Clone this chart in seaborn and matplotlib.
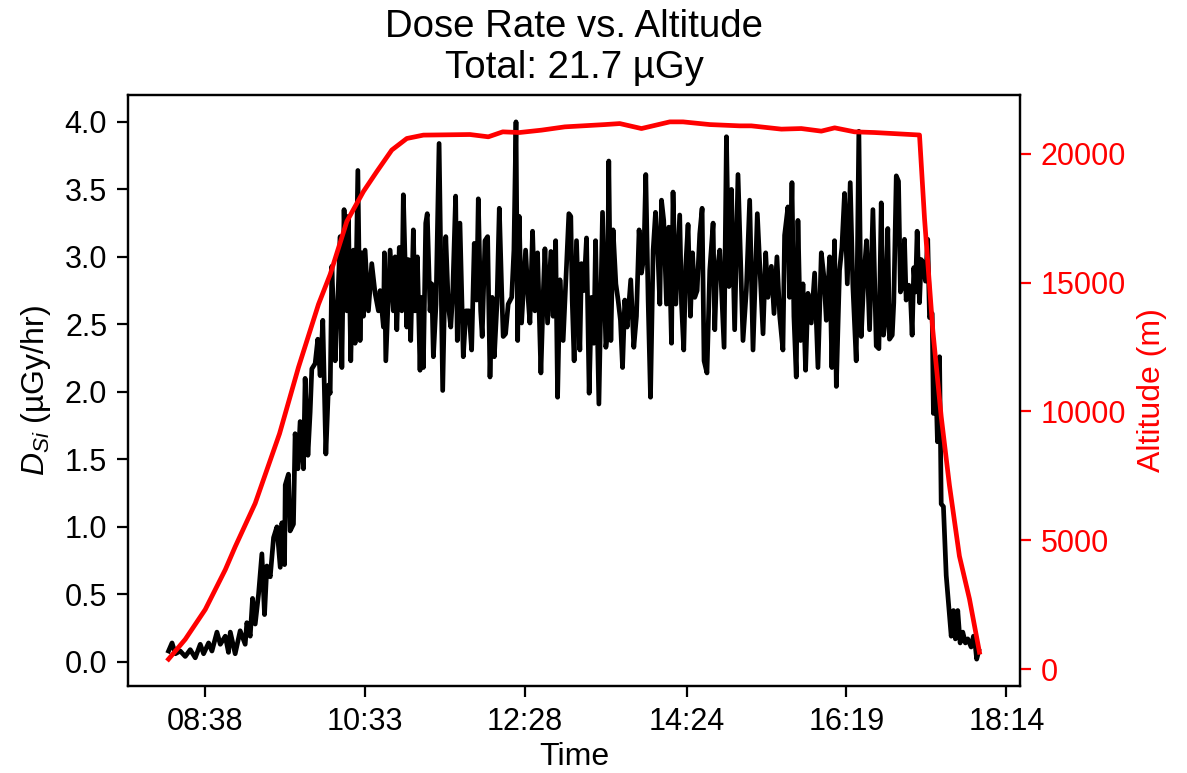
import matplotlib
matplotlib.use("Agg")
import matplotlib.pyplot as plt
import seaborn as sns
import numpy as np

# ---- data: time in minutes after midnight ----
dose_time = [
    491.6, 494.1, 496.5, 500.0, 503.6, 507.2, 510.8, 514.4, 516.8, 520.4, 522.8, 526.4, 528.8, 532.4,
    534.7, 536.0, 539.5, 543.1, 546.7, 547.9, 550.3, 552.0, 553.9, 556.3, 558.7, 560.6, 562.3, 564.7,
    567.1, 569.5, 571.9, 573.1, 575.0, 575.5, 577.8, 579.0, 581.4, 582.6, 584.6, 586.2, 588.6, 589.8,
    591.8, 593.4, 594.6, 597.0, 598.9, 600.6, 602.5, 604.7, 606.6,
    607.8, 609.0, 611.4, 613.0, 615.0, 616.2, 617.8, 619.8, 620.9, 622.6, 624.5, 625.7, 627.7, 629.3,
    630.5, 631.7, 632.9, 635.3, 637.7, 640.1, 642.5, 643.7, 646.1, 646.8, 647.8, 650.9, 653.2, 654.5,
    655.7, 657.5, 659.3, 660.4, 662.9, 664.0, 665.7, 667.6, 668.8, 670.5, 672.4, 673.6, 674.8, 676.5,
    677.6, 679.6, 680.8, 682.0, 683.9, 686.1, 688.7, 690.9, 692.7, 694.5, 695.9, 698.0, 699.2, 701.1,
    703.5, 705.4,
    707.6, 709.5, 711.4, 713.1, 714.3, 716.0, 717.1, 719.1, 721.0, 722.7, 724.3, 725.8, 727.7, 729.4,
    731.1, 732.2, 733.9, 735.8, 738.3, 739.9, 741.4, 742.6, 743.7, 745.4, 748.3, 750.2, 751.4, 753.3,
    755.0, 756.9, 759.3, 761.0, 762.2, 764.1, 766.5, 768.1, 769.9, 771.3, 773.0, 775.3, 776.5, 779.4,
    780.8, 781.8, 783.2, 784.9, 787.3, 788.5, 790.2, 792.1, 794.0, 795.7, 797.4, 798.6, 801.0, 803.6,
    806.0, 806.9, 808.1, 809.6, 811.2, 813.2, 814.8, 816.5, 818.0, 819.6, 821.3, 823.9, 826.1, 828.0,
    829.9, 831.6, 833.3, 834.7, 836.4, 838.1, 840.0, 841.7, 843.5, 844.8, 846.0, 847.6, 849.6, 851.2,
    853.2, 854.3, 856.3, 857.9, 859.1, 860.4, 862.0, 863.4, 865.1, 866.8, 868.3, 869.9, 871.6, 873.5,
    875.2, 876.6, 878.7, 880.7, 883.1, 884.3, 885.5, 887.9, 891.0, 892.7, 894.5, 896.3, 898.6, 901.0,
    904.6, 907.0, 909.4, 911.8, 914.9, 916.6, 919.0, 920.9, 922.5, 925.0, 926.9, 929.0, 931.0, 933.3,
    934.5, 936.9, 938.1, 939.8, 941.2, 942.9, 944.1, 946.0, 947.7, 949.6, 951.3, 953.7, 956.1, 958.5,
    960.9, 962.8, 964.5, 966.9, 968.5, 970.4, 971.7, 974.0, 975.7, 977.6, 979.6, 981.7, 983.6, 986.0,
    987.9, 989.6, 991.5, 993.4, 995.6, 998.0,
    1000.4, 1002.3, 1004.0, 1005.6, 1006.9, 1008.7, 1009.9, 1011.9, 1013.0, 1014.8, 1016.4, 1017.8,
    1019.5, 1020.7, 1021.9, 1023.8, 1025.0, 1026.2, 1027.4, 1028.6, 1029.8, 1031.5, 1032.7, 1034.4,
    1035.8, 1037.4, 1038.7, 1040.6, 1041.5, 1043.0, 1044.4, 1045.9, 1047.1, 1048.7, 1050.7, 1052.5,
    1054.3, 1055.9, 1057.3, 1059.0, 1060.7, 1062.6, 1064.5, 1066.2, 1068.6, 1070.3, 1071.7, 1072.6,
    1074.1,
]
dose_rate = [
    0.08, 0.14, 0.06, 0.08, 0.04, 0.09, 0.03, 0.13, 0.06, 0.14, 0.08, 0.22, 0.13, 0.19,
    0.07, 0.22, 0.06, 0.23, 0.13, 0.29, 0.19, 0.47, 0.28, 0.50, 0.80, 0.35, 0.71, 0.63,
    0.92, 1.00, 0.70, 1.03, 0.72, 1.31, 1.39, 0.97, 1.02, 1.69, 1.43, 1.78, 1.43, 2.10,
    1.53, 1.85, 2.17, 2.21, 2.39, 2.12, 2.53, 1.54, 2.05,
    1.99, 2.93, 2.23, 2.60, 3.15, 2.18, 3.35, 2.60, 3.30, 2.23, 3.05, 2.36, 3.64, 2.38,
    3.03, 2.56, 3.05, 2.60, 2.95, 2.73, 2.60, 2.75, 2.48, 3.03, 2.23, 3.05, 2.60, 3.00,
    2.46, 3.07, 2.60, 3.46, 2.48, 2.98, 2.38, 3.20, 2.60, 3.00, 2.16, 2.70, 2.18, 3.25,
    3.32, 2.60, 2.80, 2.26, 2.65, 3.84, 2.01, 3.15, 2.65, 2.48, 2.73, 3.45, 2.38, 3.25,
    2.26, 2.60,
    2.60, 2.31, 3.10, 2.68, 3.43, 2.60, 2.41, 3.12, 3.15, 2.11, 2.70, 2.26, 2.65, 3.36,
    2.75, 2.41, 2.43, 2.65, 2.70, 3.05, 4.00, 2.38, 3.30, 2.51, 3.05, 2.68, 2.51, 3.19,
    2.60, 3.03, 2.14, 2.73, 3.06, 2.51, 3.04, 2.56, 3.12, 1.96, 2.83, 2.38, 2.65, 3.32,
    3.30, 2.68, 2.23, 3.12, 2.31, 2.95, 2.75, 3.14, 1.99, 2.70, 2.36, 3.12, 1.91, 3.33,
    2.33, 2.41, 3.71, 2.38, 3.20, 2.80, 2.68, 2.53, 2.18, 2.68, 2.48, 2.83, 2.33, 2.56,
    3.20, 2.88, 3.00, 3.61, 2.68, 1.96, 3.05, 3.33, 3.00, 2.65, 3.42, 3.27, 2.65, 3.22,
    2.36, 3.48, 2.65, 3.03, 3.31, 2.65, 2.31, 2.93, 3.24, 2.56, 3.03, 2.70, 2.75, 3.17,
    3.36, 2.23, 2.14, 2.90, 3.25, 2.46, 2.85, 3.05, 2.33, 3.89, 2.78, 3.50, 2.46, 3.61,
    2.38, 2.75, 3.42, 2.31, 3.32, 2.95, 2.43, 3.03, 2.70, 2.93, 2.58, 3.00, 2.56, 2.31,
    3.16, 3.37, 2.70, 3.55, 2.56, 2.11, 3.27, 2.38, 2.80, 2.16, 2.73, 2.51, 2.88, 2.18,
    3.03, 2.85, 2.53, 3.00, 2.18, 3.12, 2.04, 2.90, 3.07, 3.47, 2.80, 3.55, 2.78, 2.23,
    3.93, 2.41, 2.85, 3.12, 2.46, 3.35,
    2.34, 2.32, 3.40, 2.42, 2.53, 3.21, 2.39, 2.42, 2.66, 3.60, 3.56, 2.74,
    2.79, 3.13, 2.68, 2.79, 2.71, 2.42, 2.92, 2.74, 3.19, 2.66, 2.98, 2.95,
    2.82, 3.13, 2.55, 2.58, 1.84, 2.18, 1.63, 2.26, 1.17, 1.15, 0.64, 0.41,
    0.19, 0.38, 0.17, 0.38, 0.14, 0.22, 0.14, 0.17, 0.11, 0.19, 0.11, 0.02,
    0.08,
]

alt_time = [
    491.6, 503.6, 518.0, 532.4, 539.5, 553.9, 571.4, 585.0, 599.4, 607.8, 619.8, 631.7, 641.3,
    652.1, 662.9, 674.8, 708.3, 721.5, 731.9, 743.8, 759.8, 776.5, 805.3, 816.0, 831.6, 852.0,
    861.5, 880.7, 902.2, 910.6, 932.2, 946.5, 960.9, 970.5, 984.8, 999.2, 1031.5, 1035.1,
    1041.1, 1047.1, 1053.0, 1060.2, 1067.4, 1074.6,
]
altitude = [
    390, 1158, 2317, 3861, 4750, 6436, 9139, 11711, 14158, 15317, 17375, 18533, 19305,
    20143, 20591, 20722, 20745, 20656, 20849, 20822, 20915, 21042, 21131, 21170, 20977, 21236,
    21236, 21131, 21081, 21081, 20954, 20977, 20876, 21004, 20849, 20822, 20726, 17490,
    13127, 9800, 7143, 4386, 2730, 660,
]

tick_labels = ["08:38", "10:33", "12:28", "14:24", "16:19", "18:14"]

title = "Dose Rate vs. Altitude\nTotal: 21.7 \u00b5Gy"
left_label = "$D_{Si}$ (\u00b5Gy/hr)"

# ---- styling ----
plt.rcParams['font.family'] = ['Liberation Sans', 'DejaVu Sans']
plt.rcParams['mathtext.fontset'] = 'custom'
plt.rcParams['mathtext.rm'] = 'Liberation Sans'
plt.rcParams['mathtext.it'] = 'Liberation Sans:italic'
plt.rcParams['font.size'] = 11.5
plt.rcParams['axes.titlesize'] = 13.8
plt.rcParams['axes.labelsize'] = 11.5
plt.rcParams['xtick.labelsize'] = 11
plt.rcParams['ytick.labelsize'] = 11
plt.rcParams['xtick.major.size'] = 4
plt.rcParams['ytick.major.size'] = 4

fig = plt.figure(figsize=(5.935, 3.865), dpi=200)
ax = fig.add_axes([128 / 1187, 87 / 773, (1020 - 128) / 1187, (686 - 95) / 773])

sns.lineplot(x=dose_time, y=dose_rate, ax=ax, color='black', linewidth=1.7,
             sort=False, estimator=None)
ax.set_ylabel(left_label)
ax.set_xlabel("Time", labelpad=2)

def to_min(s):
    h, m = s.split(":")
    return int(h) * 60 + int(m)

ax.set_xticks([to_min(s) for s in tick_labels])
ax.set_xticklabels(tick_labels)

ax2 = ax.twinx()
sns.lineplot(x=alt_time, y=altitude, ax=ax2, color='red', linewidth=1.7,
             sort=False, estimator=None)
ax2.set_ylabel("Altitude (m)", color='red')
ax2.tick_params(axis='y', colors='red')

ax.set_title(title)

fig.savefig("out.png", dpi=200)
